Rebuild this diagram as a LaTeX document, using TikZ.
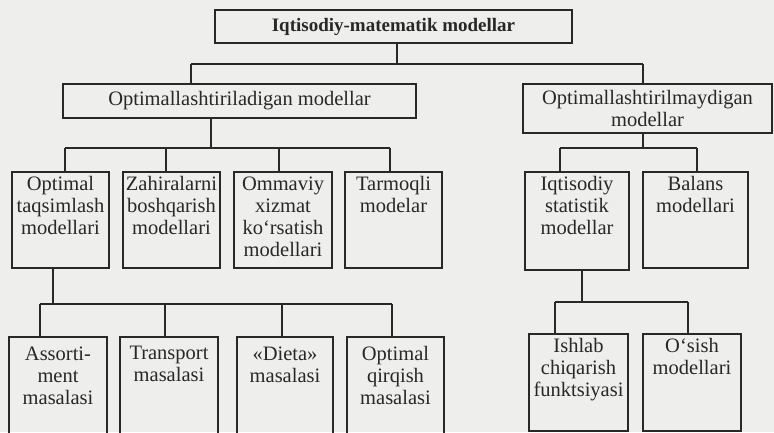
\documentclass[tikz,border=0pt]{standalone}
\usepackage{fontspec}
\setmainfont{Liberation Serif}
\definecolor{bgc}{RGB}{238,238,236}
\definecolor{ink}{RGB}{40,40,40}
\tikzset{
  box/.style={draw=ink, line width=1.3pt, rectangle, inner sep=0pt, text=ink,
              font=\fontsize{20.5}{22}\selectfont, align=center},
  inlbl/.style={anchor=north, align=center, inner sep=0pt, yshift=-5pt, text=ink,
              font=\fontsize{20.5}{22}\selectfont},
  lowlbl/.style={inlbl, yshift=-5pt},
  con/.style={draw=ink, line width=1.3pt}
}
\begin{document}
\begin{tikzpicture}[x=1pt,y=-1pt]
\useasboundingbox (0,0) rectangle (774,432);
\fill[bgc] (0,0) rectangle (774,432);

% level 1
\node[box, minimum width=357pt, minimum height=33pt,
      font=\fontsize{19}{22}\selectfont\bfseries] (T) at (393.5,26.5) {Iqtisodiy-matematik modellar};
% level 2
\node[box, minimum width=353pt, minimum height=34pt] (A) at (239.5,101) {Optimallashtiriladigan modellar};
\node[box, minimum width=249pt, minimum height=49pt] (B) at (647.5,108.5) {Optimallashtirilmaydigan\\modellar};
% level 3
\node[box, minimum width=97pt, minimum height=96pt, label={[inlbl]north:{Optimal\\taqsimlash\\modellari}}] (C1) at (60.5,220) {};
\node[box, minimum width=97pt, minimum height=96pt, label={[inlbl]north:{Zahiralarni\\boshqarish\\modellari}}] (C2) at (171.5,220) {};
\node[box, minimum width=98pt, minimum height=96pt, label={[inlbl]north:{Ommaviy\\xizmat\\ko‘rsatish\\modellari}}] (C3) at (283,220) {};
\node[box, minimum width=97pt, minimum height=96pt, label={[inlbl]north:{Tarmoqli\\modelar}}] (C4) at (393.5,220) {};
\node[box, minimum width=104pt, minimum height=98pt, label={[inlbl]north:{Iqtisodiy\\statistik\\modellar}}] (D1) at (577,221) {};
\node[box, minimum width=105pt, minimum height=96pt, label={[inlbl]north:{Balans\\modellari}}] (D2) at (695.5,220) {};
% level 4
\node[box, minimum width=98pt, minimum height=97pt, label={[lowlbl]north:{Assorti-\\ment\\masalasi}}] (E1) at (58,385.5) {};
\node[box, minimum width=98pt, minimum height=97pt, label={[lowlbl]north:{Transport\\masalasi}}] (E2) at (169,385.5) {};
\node[box, minimum width=96pt, minimum height=97pt, label={[lowlbl]north:{«Dieta»\\masalasi}}] (E3) at (285,385.5) {};
\node[box, minimum width=97pt, minimum height=97pt, label={[lowlbl]north:{Optimal\\qirqish\\masalasi}}] (E4) at (395.5,385.5) {};
\node[box, minimum width=99pt, minimum height=97pt, label={[inlbl]north:{Ishlab\\chiqarish\\funktsiyasi}}] (F1) at (578.5,382.5) {};
\node[box, minimum width=98pt, minimum height=97pt, label={[inlbl]north:{O‘sish\\modellari}}] (F2) at (692,382.5) {};

% bus levels
\coordinate (b0) at (0,64);
\coordinate (b1) at (0,148);
\coordinate (b2) at (0,148);
\coordinate (b3) at (0,304);
\coordinate (b4) at (0,302);

% drop points
\path ([xshift=3.5pt]T.south) coordinate (t1)
      ([xshift=-48.5pt]A.north) coordinate (a1)
      ([xshift=-4.5pt]B.north) coordinate (bb1)
      ([xshift=-28.5pt]A.south) coordinate (a2)
      ([xshift=-4.5pt]B.south) coordinate (bb2)
      ([xshift=4.5pt]C1.north) coordinate (c1)
      ([xshift=-5.5pt]C2.north) coordinate (c2)
      ([xshift=-4pt]C3.north) coordinate (c3)
      ([xshift=-3.5pt]C4.north) coordinate (c4)
      ([xshift=-17pt]D1.north) coordinate (d1)
      ([xshift=1.5pt]D2.north) coordinate (d2)
      ([xshift=-7.5pt]C1.south) coordinate (c1s)
      ([xshift=5pt]D1.south) coordinate (d1s)
      ([xshift=-18pt]E1.north) coordinate (e1)
      ([xshift=-4pt]E2.north) coordinate (e2)
      ([xshift=-3pt]E3.north) coordinate (e3)
      ([xshift=-3.5pt]E4.north) coordinate (e4)
      ([xshift=-23.5pt]F1.north) coordinate (f1)
      ([xshift=-4pt]F2.north) coordinate (f2);

% level 1 -> 2
\draw[con] (t1) -- (t1 |- b0);
\draw[con] (a1 |- b0) -- (bb1 |- b0);
\draw[con] (a1 |- b0) -- (a1);
\draw[con] (bb1 |- b0) -- (bb1);
% A -> C
\draw[con] (a2) -- (a2 |- b1);
\draw[con] (c1 |- b1) -- (c4 |- b1);
\draw[con] (c1 |- b1) -- (c1);
\draw[con] (c2 |- b1) -- (c2);
\draw[con] (c3 |- b1) -- (c3);
\draw[con] (c4 |- b1) -- (c4);
% B -> D
\draw[con] (bb2) -- (bb2 |- b2);
\draw[con] (d1 |- b2) -- (d2 |- b2);
\draw[con] (d1 |- b2) -- (d1);
\draw[con] (d2 |- b2) -- (d2);
% C1 -> E
\draw[con] (c1s) -- (c1s |- b3);
\draw[con] (e1 |- b3) -- (e4 |- b3);
\draw[con] (e1 |- b3) -- (e1);
\draw[con] (e2 |- b3) -- (e2);
\draw[con] (e3 |- b3) -- (e3);
\draw[con] (e4 |- b3) -- (e4);
% D1 -> F
\draw[con] (d1s) -- (d1s |- b4);
\draw[con] (f1 |- b4) -- (f2 |- b4);
\draw[con] (f1 |- b4) -- (f1);
\draw[con] (f2 |- b4) -- (f2);
\end{tikzpicture}
\end{document}
